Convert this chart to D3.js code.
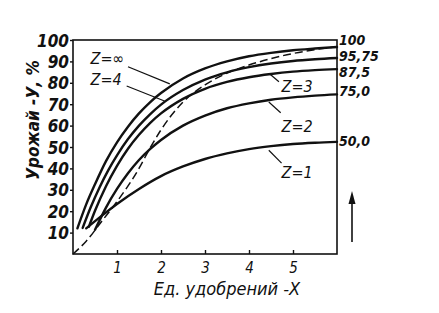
<!DOCTYPE html>
<html>
<head>
<meta charset="utf-8">
<script src="https://cdn.jsdelivr.net/npm/d3@7/dist/d3.min.js"></script>
<style>
  html, body { margin: 0; padding: 0; background: #fff; }
  svg { display: block; }
  text { font-family: "Liberation Sans Narrow", "DejaVu Sans Condensed", "Arial Narrow", sans-serif; font-style: italic; fill: #111; }
</style>
</head>
<body>
<svg id="chart" width="439" height="313"></svg>
<script>
// ---- data ----
const xTicks = [1, 2, 3, 4, 5];
const yTicks = [10, 20, 30, 40, 50, 60, 70, 80, 90, 100];
const seriesNames = ["Z=∞", "Z=4", "Z=3", "Z=2", "Z=1"];
const endLabels = ["100", "95,75", "87,5", "75,0", "50,0"];

const zInfX = [0.1, 0.3, 0.5, 0.75, 1, 1.25, 1.5, 1.75, 2, 2.5, 3, 3.5, 4, 4.5, 5, 5.5, 6];
const zInfY = [12.0, 23.2, 32.6, 43.4, 52.2, 59.5, 65.7, 70.9, 75.2, 82.0, 86.7, 90.0, 92.4, 94.0, 95.2, 96.0, 96.7];

const z4X = [0.22, 0.4, 0.6, 0.8, 1, 1.25, 1.5, 1.75, 2, 2.5, 3, 3.5, 4, 4.5, 5, 5.5, 6];
const z4Y = [12.2, 21.7, 31.0, 39.1, 46.1, 53.7, 60.0, 65.3, 69.8, 76.6, 81.5, 84.9, 87.3, 89.0, 90.2, 91.0, 91.6];

const z3X = [0.36, 0.5, 0.75, 1, 1.25, 1.5, 1.75, 2, 2.5, 3, 3.5, 4, 4.5, 5, 5.5, 6];
const z3Y = [12.7, 20.2, 31.7, 41.2, 49.2, 55.7, 61.2, 65.7, 72.5, 77.2, 80.4, 82.6, 84.1, 85.2, 85.9, 86.4];

const z2X = [0.5, 0.75, 1, 1.25, 1.5, 1.75, 2, 2.5, 3, 3.5, 4, 4.5, 5, 5.5, 6];
const z2Y = [11.3, 21.7, 30.4, 37.7, 43.9, 49.0, 53.3, 60.0, 64.7, 68.1, 70.4, 72.1, 73.2, 74.0, 74.6];

const z1X = [0.3, 0.6, 1, 1.5, 2, 2.5, 3, 3.5, 4, 4.5, 5, 5.5, 6];
const z1Y = [12.0, 17.0, 23.4, 30.4, 36.4, 40.9, 44.4, 47.0, 49.0, 50.4, 51.4, 52.0, 52.4];

const dashX = [0, 0.3, 0.68, 1, 1.5, 1.75, 2, 2.5, 3, 3.5, 4, 4.5, 5, 5.5, 6];
const dashY = [0, 6, 16, 24.5, 40, 49.5, 58, 71, 79, 84.5, 88.3, 91.3, 93.7, 95.5, 96.8];

const seriesX = [zInfX, z4X, z3X, z2X, z1X];
const seriesY = [zInfY, z4Y, z3Y, z2Y, z1Y];

// ---- layout ----
const svg = d3.select("#chart");
const L = 73, R = 337, T = 40, B = 254;
const x = d3.scaleLinear().domain([0, 6]).range([L, R]);
const y = d3.scaleLinear().domain([0, 100]).range([B, T]);

// vertical placement (in value units) of the right-hand labels
const endLabelPos = [100, 92.6, 85.0, 76, 52.8];

svg.append("rect").attr("width", 439).attr("height", 313).attr("fill", "#fff");

// frame
svg.append("rect")
  .attr("x", L).attr("y", T).attr("width", R - L).attr("height", B - T)
  .attr("fill", "none").attr("stroke", "#111").attr("stroke-width", 1.6);

// axes
const yAxis = d3.axisLeft(y).tickValues(yTicks).tickSize(3).tickPadding(1).tickFormat(d3.format("d"));
const gy = svg.append("g").attr("transform", `translate(${L},0)`).call(yAxis);
gy.select(".domain").remove();
gy.selectAll("line").attr("stroke", "#111").attr("stroke-width", 1.4);
gy.selectAll("text").attr("font-size", 17).attr("font-weight", "bold").attr("fill", "#111")
  .style("font-family", null).attr("dy", "0.36em");

const xAxis = d3.axisBottom(x).tickValues(xTicks).tickSize(-4).tickPadding(8).tickFormat(d3.format("d"));
const gx = svg.append("g").attr("transform", `translate(0,${B})`).call(xAxis);
gx.select(".domain").remove();
gx.selectAll("line").attr("stroke", "#111").attr("stroke-width", 1.4);
gx.selectAll("text").attr("font-size", 15).attr("fill", "#111").style("font-family", null);

// axis titles
svg.append("text").attr("x", 227).attr("y", 295).attr("text-anchor", "middle")
  .attr("font-size", 18).text("Ед. удобрений -X");
svg.append("text").attr("transform", "translate(39,120) rotate(-90)").attr("text-anchor", "middle")
  .attr("font-size", 17).attr("font-weight", "bold").text("Урожай -У, %");

// curves
const line = d3.line().x(d => x(d[0])).y(d => y(d[1])).curve(d3.curveMonotoneX);
seriesX.forEach((xs, i) => {
  const pts = xs.map((v, j) => [v, seriesY[i][j]]);
  svg.append("path").datum(pts).attr("d", line)
    .attr("fill", "none").attr("stroke", "#111").attr("stroke-width", 2.4)
    .attr("stroke-linecap", "round");
});
svg.append("path").datum(dashX.map((v, j) => [v, dashY[j]])).attr("d", line)
  .attr("fill", "none").attr("stroke", "#111").attr("stroke-width", 1.5)
  .attr("stroke-dasharray", "8,4");

// right end labels
endLabels.forEach((t, i) => {
  svg.append("text").attr("x", R + 2).attr("y", y(endLabelPos[i])).attr("dy", "0.36em")
    .attr("font-size", 14).attr("font-weight", "bold").text(t);
});

// curve labels with leader lines
const labelAt = [
  { tx: 0.4, ty: 88.8, lx1: 1.25, ly1: 87.5, lx2: 2.2, ly2: 79.5 },
  { tx: 0.4, ty: 79, lx1: 1.22, ly1: 78.5, lx2: 2.08, ly2: 71.5 },
  { tx: 4.74, ty: 75.7, lx1: 4.48, ly1: 84.0, lx2: 4.68, ly2: 80.5 },
  { tx: 4.74, ty: 57, lx1: 4.45, ly1: 71.0, lx2: 4.72, ly2: 66.0 },
  { tx: 4.74, ty: 35.5, lx1: 4.45, ly1: 48.5, lx2: 4.74, ly2: 42.5 }
];
seriesNames.forEach((n, i) => {
  const p = labelAt[i];
  svg.append("line").attr("x1", x(p.lx1)).attr("y1", y(p.ly1)).attr("x2", x(p.lx2)).attr("y2", y(p.ly2))
    .attr("stroke", "#111").attr("stroke-width", 1.2);
  svg.append("text").attr("x", x(p.tx)).attr("y", y(p.ty)).attr("font-size", 16).text(n);
});

// arrow
svg.append("line").attr("x1", 352).attr("y1", 242).attr("x2", 352).attr("y2", 200)
  .attr("stroke", "#111").attr("stroke-width", 1.6);
svg.append("path").attr("d", "M352,191 L348.5,204 L355.5,204 Z").attr("fill", "#111");
</script>
</body>
</html>
